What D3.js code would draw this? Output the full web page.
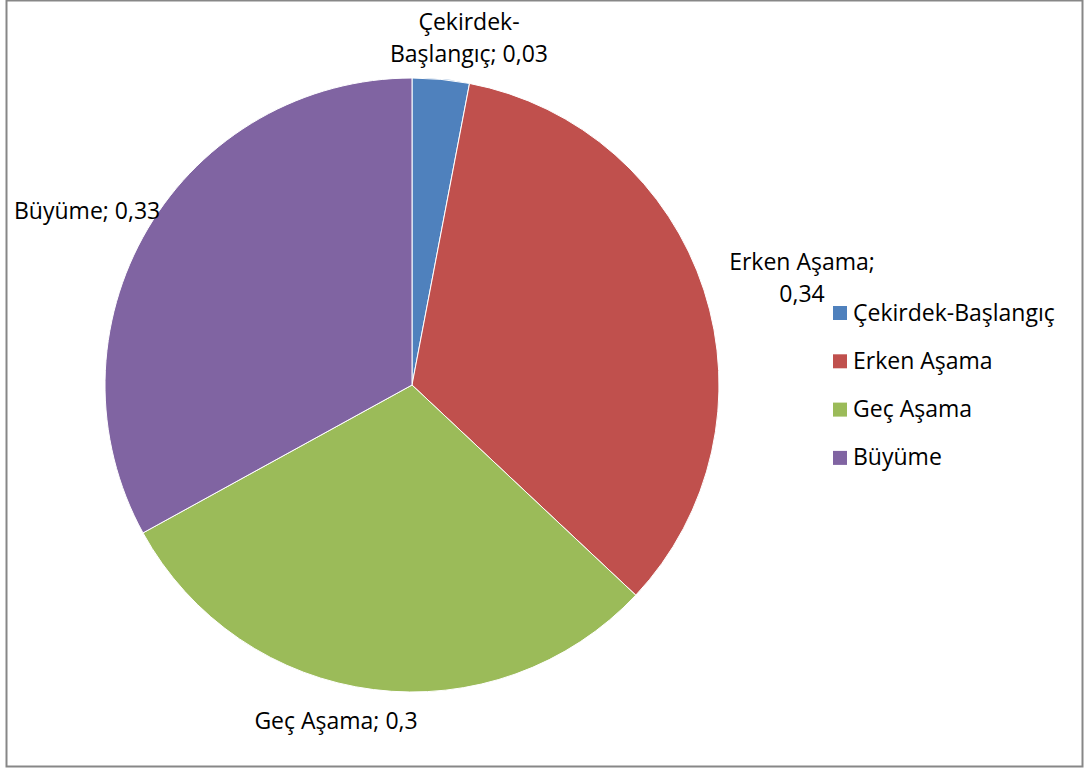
<!DOCTYPE html>
<html>
<head>
<meta charset="utf-8">
<script src="https://cdn.jsdelivr.net/npm/d3@7"></script>
<style>
  html, body { margin: 0; padding: 0; background: #fff; }
  svg { display: block; }
  text { font-family: "Open Sans", "Lato", sans-serif; fill: #000; }
</style>
</head>
<body>
<svg id="chart" width="1084" height="769"></svg>
<script>
// Share of investment by stage
const categories = ["Çekirdek-Başlangıç", "Erken Aşama", "Geç Aşama", "Büyüme"];
const values = [0.03, 0.34, 0.30, 0.33];
const valueLabels = ["0,03", "0,34", "0,3", "0,33"];
const colors = ["#4F81BD", "#C0504D", "#9BBB59", "#8064A2"];

const svg = d3.select("#chart");

// chart frame
svg.append("rect")
  .attr("x", 6.5).attr("y", 0.5)
  .attr("width", 1076).attr("height", 766)
  .attr("fill", "#fff")
  .attr("stroke", "#878787").attr("stroke-width", 2);

const cx = 412, cy = 385, radius = 307;

const color = d3.scaleOrdinal().domain(categories).range(colors);

const data = categories.map((c, i) => ({ name: c, value: values[i], label: valueLabels[i] }));

const pie = d3.pie().value(d => d.value).sort(null);
const arc = d3.arc().innerRadius(0).outerRadius(radius);
const arcs = pie(data);

const g = svg.append("g").attr("transform", `translate(${cx},${cy})`);

g.selectAll("path.slice")
  .data(arcs)
  .join("path")
  .attr("class", "slice")
  .attr("d", arc)
  .attr("fill", d => color(d.data.name))
  .attr("stroke", "#fff")
  .attr("stroke-width", 1);

// data labels: "name; value", placed outside the pie near each slice
const fontSize = 23;
const labelLayout = [
  { wrap: "hyphen", dx: 57, dy: -355, anchor: "middle" },
  { wrap: "value", dx: 390, dy: -115, anchor: "middle" },
  { wrap: "none", dx: -76, dy: 344, anchor: "middle" },
  { wrap: "none", dx: -398, dy: -166, anchor: "start" }
];

arcs.forEach((a, i) => {
  const name = a.data.name;
  const L = labelLayout[i];
  let lines;
  if (L.wrap === "hyphen") {
    const k = name.indexOf("-") + 1;
    lines = [name.slice(0, k), `${name.slice(k)}; ${a.data.label}`];
  } else if (L.wrap === "value") {
    lines = [`${name};`, a.data.label];
  } else {
    lines = [`${name}; ${a.data.label}`];
  }
  const t = g.append("text")
    .attr("x", L.dx).attr("y", L.dy)
    .attr("text-anchor", L.anchor)
    .style("font-size", fontSize + "px");
  lines.forEach((ln, k) => {
    t.append("tspan")
      .attr("x", L.dx)
      .attr("dy", k === 0 ? 0 : 31.5)
      .text(ln);
  });
});

// legend
const legend = svg.append("g").attr("transform", "translate(833,313)");
const item = legend.selectAll("g")
  .data(categories)
  .join("g")
  .attr("transform", (d, i) => `translate(0,${i * 48.3})`);
item.append("rect")
  .attr("x", 0).attr("y", -7)
  .attr("width", 14).attr("height", 14)
  .attr("fill", d => color(d));
item.append("text")
  .attr("x", 20).attr("y", 7.5)
  .style("font-size", fontSize + "px")
  .text(d => d);
</script>
</body>
</html>
